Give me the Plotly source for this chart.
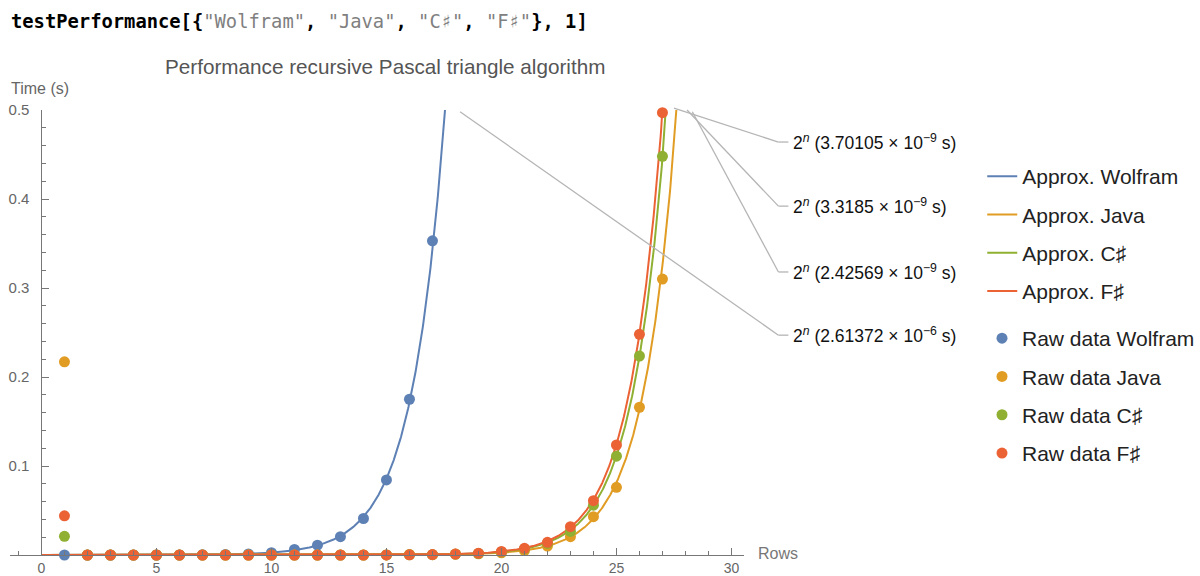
import numpy as np
import plotly.graph_objects as go

W, H = 1200, 576

# ---------------- data ----------------
languages = ["Wolfram", "Java", "C♯", "F♯"]
colors = ["#5E81B5", "#E19C24", "#8FB032", "#EB6235"]

# fitted constants c in  t = 2^n * c
fit_coeffs = [2.61372e-6, 2.42569e-9, 3.3185e-9, 3.70105e-9]
fit_mantissa = ["2.61372", "2.42569", "3.3185", "3.70105"]
fit_exponent = ["−6", "−9", "−9", "−9"]

rows_wolfram = list(range(1, 18))
time_wolfram = [0.0, 0.0, 0.0, 0.0, 0.0, 0.0001, 0.0002, 0.0006, 0.0012,
                0.0026, 0.0062, 0.0110, 0.0206, 0.0410, 0.0843, 0.1750, 0.3530]

rows_other = list(range(1, 28))
time_java = [0.217, 0.0, 0.0, 0.0, 0.0, 0.0, 0.0, 0.0, 0.0, 0.0, 0.0, 0.0, 0.0,
             0.0, 0.0001, 0.0006, 0.0004, 0.0011, 0.0013, 0.0025, 0.0050,
             0.0100, 0.0206, 0.0430, 0.0760, 0.1660, 0.3100]
time_csharp = [0.021, 0.0, 0.0, 0.0, 0.0, 0.0, 0.0, 0.0, 0.0, 0.0, 0.0, 0.0, 0.0,
               0.0, 0.0001, 0.0002, 0.0004, 0.0009, 0.0017, 0.0035, 0.0068,
               0.0130, 0.0265, 0.0560, 0.1110, 0.2236, 0.4480]
time_fsharp = [0.044, 0.0, 0.0, 0.0, 0.0, 0.0, 0.0, 0.0, 0.0, 0.0, 0.0, 0.0, 0.0,
               0.0, 0.0001, 0.0002, 0.0005, 0.0010, 0.0020, 0.0040, 0.0075,
               0.0143, 0.0318, 0.0610, 0.1236, 0.2480, 0.4970]

raw_rows = [rows_wolfram, rows_other, rows_other, rows_other]
raw_times = [time_wolfram, time_java, time_csharp, time_fsharp]

x_ticks = [0, 5, 10, 15, 20, 25, 30]
y_ticks = [0.1, 0.2, 0.3, 0.4, 0.5]

# callout anchor points (data coords) and label heights (data coords)
callout_anchor_x = [18.2, 28.3, 28.07, 27.5]
callout_anchor_y = [0.498, 0.498, 0.500, 0.502]
callout_label_y = [0.247, 0.318, 0.392, 0.464]

# ---------------- geometry ----------------
x_range = [-1.37, 30.53]
y_range = [0.0, 0.5]
x_dom = [10 / W, 748 / W]
y_dom = [(H - 555) / H, (H - 110) / H]


def px(xd):
    return x_dom[0] + (xd - x_range[0]) / (x_range[1] - x_range[0]) * (x_dom[1] - x_dom[0])


def py(yd):
    return y_dom[0] + (yd - y_range[0]) / (y_range[1] - y_range[0]) * (y_dom[1] - y_dom[0])


FONT = "Liberation Sans, Arial, sans-serif"

fig = go.Figure()

# approximation curves
xs = np.linspace(0, 30, 1501)
for name, col, c in zip(languages, colors, fit_coeffs):
    ys = c * np.power(2.0, xs)
    mask = ys < 1.0
    fig.add_trace(go.Scatter(
        x=xs[mask], y=ys[mask], mode="lines",
        line=dict(color=col, width=2),
        name="Approx. " + name, legend="legend", legendgroup="a" + name,
        hoverinfo="skip"))

# raw data
for name, col, xr, yr in zip(languages, colors, raw_rows, raw_times):
    fig.add_trace(go.Scatter(
        x=xr, y=yr, mode="markers",
        marker=dict(color=col, size=11),
        cliponaxis=False,
        name="Raw data " + name, legend="legend2", legendgroup="r" + name))

# callouts
shapes = []
annotations = []
label_x0 = 783 / W
label_x1 = 793 / W
for ax_, ay_, ly, mant, ex in zip(callout_anchor_x, callout_anchor_y,
                                  callout_label_y, fit_mantissa, fit_exponent):
    shapes.append(dict(type="line", xref="paper", yref="paper",
                       x0=px(ax_), y0=py(ay_), x1=label_x0, y1=py(ly),
                       line=dict(color="#b5b5b5", width=1.3)))
    shapes.append(dict(type="line", xref="paper", yref="paper",
                       x0=label_x0, y0=py(ly), x1=label_x1, y1=py(ly),
                       line=dict(color="#b5b5b5", width=1.3)))
    annotations.append(dict(
        xref="paper", yref="paper", x=796 / W, y=py(ly),
        xanchor="left", yanchor="middle", showarrow=False,
        text="2<sup><i>n</i></sup> (" + mant + " × 10<sup>" + ex + "</sup> s)",
        font=dict(family=FONT, size=17.5, color="#111")))

# header code line
gray = "#808080"
code = ('<b>testPerformance[{</b><span style="color:%s">"Wolfram"</span><b>, </b>'
        '<span style="color:%s">"Java"</span><b>, </b>'
        '<span style="color:%s">"C♯"</span><b>, </b>'
        '<span style="color:%s">"F♯"</span><b>}, 1]</b>') % (gray, gray, gray, gray)
annotations.append(dict(xref="paper", yref="paper", x=9 / W, y=(H - 21) / H,
                        xanchor="left", yanchor="middle", showarrow=False,
                        text=code,
                        font=dict(family="DejaVu Sans Mono, monospace", size=18.8, color="#000")))

# title
annotations.append(dict(xref="paper", yref="paper", x=387 / W, y=(H - 66) / H,
                        xanchor="center", yanchor="middle", showarrow=False,
                        text="Performance recursive Pascal triangle algorithm",
                        font=dict(family=FONT, size=20.7, color="#555")))
# axis labels
annotations.append(dict(xref="paper", yref="paper", x=9 / W, y=(H - 88) / H,
                        xanchor="left", yanchor="middle", showarrow=False,
                        text="Time (s)", font=dict(family=FONT, size=16, color="#666")))
annotations.append(dict(xref="paper", yref="paper", x=760 / W, y=(H - 553) / H,
                        xanchor="left", yanchor="middle", showarrow=False,
                        text="Rows", font=dict(family=FONT, size=16, color="#777")))

fig.update_layout(
    width=W, height=H,
    margin=dict(l=0, r=0, t=0, b=0),
    paper_bgcolor="white", plot_bgcolor="white",
    showlegend=True,
    xaxis=dict(domain=x_dom, range=x_range, showgrid=False, zeroline=False,
               showline=True, linecolor="#777", linewidth=1,
               ticks="inside", ticklen=7, tickcolor="#777", tickwidth=1,
               tickvals=x_ticks, ticktext=[str(v) for v in x_ticks],
               minor=dict(dtick=1, tick0=0, ticks="inside", ticklen=4,
                          tickcolor="#777", showgrid=False),
               tickfont=dict(family=FONT, size=14, color="#666"),
               ticklabelstandoff=0,
               anchor="y", automargin=False, fixedrange=True),
    yaxis=dict(domain=y_dom, range=y_range, showgrid=False, zeroline=False,
               showline=True, linecolor="#777", linewidth=1,
               ticks="inside", ticklen=7, tickcolor="#777", tickwidth=1,
               tickvals=y_ticks, ticktext=["0.1", "0.2", "0.3", "0.4", "0.5"],
               minor=dict(dtick=0.02, tick0=0, ticks="inside", ticklen=4,
                          tickcolor="#777", showgrid=False),
               tickfont=dict(family=FONT, size=15, color="#666"),
               ticklabelstandoff=9,
               anchor="free", position=px(0), automargin=False, fixedrange=True),
    legend=dict(x=988 / W, y=(H - 156) / H, xanchor="left", yanchor="top",
                font=dict(family=FONT, size=21, color="#222"),
                tracegroupgap=8, bgcolor="rgba(0,0,0,0)", itemwidth=30),
    legend2=dict(x=988 / W, y=(H - 318) / H, xanchor="left", yanchor="top",
                 font=dict(family=FONT, size=21, color="#222"),
                 tracegroupgap=8, bgcolor="rgba(0,0,0,0)", itemwidth=30),
    shapes=shapes,
    annotations=annotations,
)

fig.write_html("out.html")
